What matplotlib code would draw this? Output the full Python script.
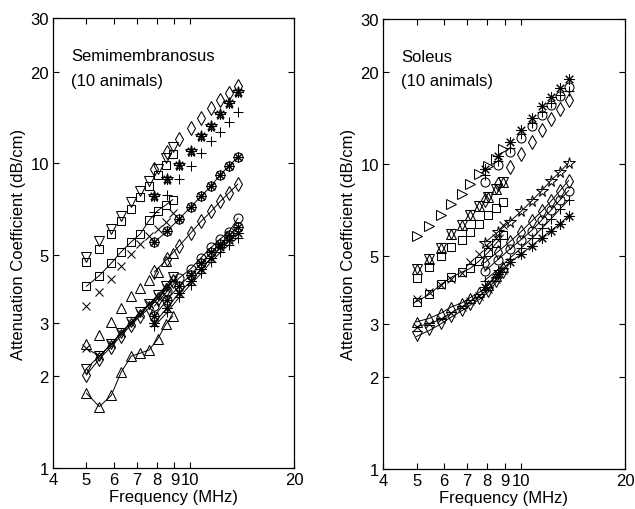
import matplotlib
matplotlib.use("Agg")
import matplotlib.pyplot as plt

plt.rcParams['font.family'] = ['Liberation Sans', 'DejaVu Sans']

# ---------------- frequencies (MHz) ----------------
F_LO = [5.0, 5.45, 5.9, 6.3, 6.75, 7.15, 7.6, 8.05, 8.5, 8.9]
F_HI = [7.87, 8.57, 9.28, 10.02, 10.75, 11.5, 12.22, 12.95, 13.75]

X_TICKS = [4, 5, 6, 7, 8, 9, 10, 20]
X_TICK_LABELS = ['4', '5', '6', '7', '8', '9', '10', '20']
Y_TICKS = [1, 2, 3, 5, 10, 20, 30]
Y_TICK_LABELS = ['1', '2', '3', '5', '10', '20', '30']

# ---------------- Semimembranosus (dB/cm) ----------------
SM_DTRI_TOP = [4.92, 5.57, 6.08, 6.72, 7.48, 8.13, 8.77, 9.6, 10.4, 11.3]
SM_SQ_TOP = [4.73, 5.23, 5.85, 6.45, 7.1, 7.75, 8.4, 9.15, 9.9, 10.7]
SM_SQ_LINE = [3.95, 4.28, 4.7, 5.12, 5.53, 5.85, 6.5, 7.0, 7.3, 7.6]
SM_X = [3.41, 3.79, 4.17, 4.61, 5.04, 5.44, 5.77, 6.08, 6.4, 6.85]
SM_TRI_UP = [2.55, 2.73, 3.02, 3.35, 3.68, 3.9, 4.15, 4.41, 4.77, 5.08]
SM_X_LINE = [2.47, 2.33, 2.55, 2.78, 3.0, 3.2, 3.45, 3.65, 3.9, 4.15]
SM_DTRI_LINE = [2.12, 2.33, 2.55, 2.78, 3.02, 3.25, 3.45, 3.7, 3.95, 4.25]
SM_DIA_LINE_LO = [2.02, 2.28, 2.5, 2.72, 2.95, 3.15, 3.35, 3.6, 3.85, 4.1]
SM_TRI_LINE = [1.76, 1.59, 1.73, 2.06, 2.33, 2.38, 2.44, 2.65, 2.97, 3.15]

SM_DIA_TOP = [9.6, 10.9, 12.0, 13.1, 14.1, 15.2, 16.2, 17.0, 17.9]
SM_AST_TOP = [7.8, 8.9, 9.9, 11.0, 12.3, 13.3, 14.5, 15.8, 17.1]
SM_PLUS_TOP = [6.9, 7.9, 8.9, 9.8, 10.8, 11.8, 12.7, 13.7, 14.7]
SM_OAST_LINE = [5.5, 6.0, 6.56, 7.18, 7.8, 8.42, 9.18, 9.8, 10.5]
SM_DIA_LINE_HI = [4.4, 4.85, 5.35, 5.9, 6.45, 6.95, 7.5, 8.0, 8.55]
SM_CIRC_LINE = [3.4, 3.8, 4.2, 4.5, 4.9, 5.3, 5.65, 5.95, 6.6]
SM_OAST_LINE_LO = [3.15, 3.57, 3.95, 4.3, 4.7, 5.1, 5.45, 5.8, 6.2]
SM_AST_LINE = [3.0, 3.35, 3.75, 4.1, 4.5, 4.9, 5.3, 5.6, 5.9]
SM_PLUS_LINE = [2.92, 3.24, 3.63, 4.0, 4.35, 4.75, 5.1, 5.4, 5.7]

# ---------------- Soleus (dB/cm) ----------------
SO_RTRI = [5.79, 6.28, 6.8, 7.39, 7.97, 8.6, 9.27, 9.87, 10.4, 11.2]
SO_HEX = [4.53, 4.88, 5.29, 5.89, 6.32, 6.8, 7.3, 7.8, 8.3, 8.74]
SO_SQ = [4.22, 4.58, 4.99, 5.33, 5.64, 5.97, 6.36, 6.8, 7.16, 7.5]
SO_X = [3.6, 3.8, 4.0, 4.2, 4.39, 4.76, 5.06, 5.33, 5.7, 6.3]
SO_SQ_LINE = [3.54, 3.74, 4.04, 4.25, 4.42, 4.55, 4.82, 5.13, 5.5, 5.85]
SO_TRI_LINE = [3.04, 3.12, 3.25, 3.4, 3.5, 3.65, 3.8, 4.0, 4.3, 4.6]
SO_X_LINE = [2.93, 3.0, 3.1, 3.25, 3.4, 3.55, 3.7, 3.9, 4.2, 4.5]
SO_DTRI_LINE = [2.72, 2.85, 3.0, 3.15, 3.3, 3.45, 3.6, 3.8, 4.1, 4.4]

SO_AST_TOP = [9.6, 10.6, 11.8, 12.95, 14.2, 15.5, 16.6, 17.7, 19.0]
SO_CIRC_TOP = [8.74, 9.9, 10.97, 12.15, 13.3, 14.5, 15.6, 16.7, 17.9]
SO_PLUS_TOP = [9.2, 10.2, 11.3, 12.5, 13.6, 14.8, 15.9, 16.9, 17.3]
SO_DIA_TOP = [7.6, 8.6, 9.8, 10.8, 11.8, 12.9, 14.0, 15.1, 16.2]
SO_STAR_LINE = [5.53, 5.97, 6.46, 6.99, 7.57, 8.18, 8.83, 9.4, 10.1]
SO_DIA_LINE = [4.75, 5.15, 5.55, 6.0, 6.5, 7.0, 7.55, 8.15, 8.83]
SO_CIRC_LINE = [4.45, 4.85, 5.25, 5.65, 6.05, 6.55, 7.05, 7.6, 8.18]
SO_PLUS_LINE = [4.15, 4.5, 4.9, 5.3, 5.7, 6.15, 6.6, 7.1, 7.63]
SO_AST_LINE = [3.95, 4.35, 4.76, 5.06, 5.39, 5.74, 6.05, 6.36, 6.77]

AST = (8, 2, 0)  # MATLAB-like asterisk
HEX = ['^', 'v']  # hexagram drawn as two overlapping triangles

SM_SERIES = [
    (F_LO, SM_DTRI_TOP, ['v'], False),
    (F_LO, SM_SQ_TOP, ['s'], False),
    (F_LO, SM_SQ_LINE, ['s'], True),
    (F_LO, SM_X, ['x'], False),
    (F_LO, SM_TRI_UP, ['^'], False),
    (F_LO, SM_X_LINE, ['x'], True),
    (F_LO, SM_DTRI_LINE, ['v'], True),
    (F_LO, SM_DIA_LINE_LO, ['d'], True),
    (F_LO, SM_TRI_LINE, ['^'], True),
    (F_HI, SM_DIA_TOP, ['d'], False),
    (F_HI, SM_AST_TOP, [AST, '*'], False),
    (F_HI, SM_PLUS_TOP, ['+'], False),
    (F_HI, SM_OAST_LINE, ['o', AST], True),
    (F_HI, SM_DIA_LINE_HI, ['d'], True),
    (F_HI, SM_CIRC_LINE, ['o'], True),
    (F_HI, SM_OAST_LINE_LO, ['o', AST], True),
    (F_HI, SM_AST_LINE, [AST], True),
    (F_HI, SM_PLUS_LINE, ['+'], True),
]

SO_SERIES = [
    (F_LO, SO_RTRI, ['>'], False),
    (F_LO, SO_HEX, HEX, False),
    (F_LO, SO_SQ, ['s'], False),
    (F_LO, SO_X, ['x'], False),
    (F_LO, SO_SQ_LINE, ['s'], True),
    (F_LO, SO_TRI_LINE, ['^'], True),
    (F_LO, SO_X_LINE, ['x'], True),
    (F_LO, SO_DTRI_LINE, ['v'], True),
    (F_HI, SO_AST_TOP, [AST], False),
    (F_HI, SO_CIRC_TOP, ['o'], False),
    (F_HI, SO_PLUS_TOP, ['+'], False),
    (F_HI, SO_DIA_TOP, ['d'], False),
    (F_HI, SO_STAR_LINE, ['*'], True),
    (F_HI, SO_DIA_LINE, ['d'], True),
    (F_HI, SO_CIRC_LINE, ['o'], True),
    (F_HI, SO_PLUS_LINE, ['+'], True),
    (F_HI, SO_AST_LINE, [AST], True),
]

MS = {'v': 6.5, '^': 6.5, '>': 6.5, 's': 5.8, 'x': 5.5, 'd': 7.5, 'o': 6.5,
      '+': 7, '*': 8.5}


def draw(ax, series, title):
    for f, v, markers, connected in series:
        if connected:
            ax.plot(f, v, '-', color='black', lw=0.7)
        for m in markers:
            ms = 7.5 if m == AST else MS[m]
            ax.plot(f, v, linestyle='none', marker=m, ms=ms, mfc='none',
                    mec='black', mew=0.75)
    ax.set_xscale('log')
    ax.set_yscale('log')
    ax.set_xlim(4, 20)
    ax.set_ylim(1, 30)
    ax.set_xticks(X_TICKS)
    ax.set_xticklabels(X_TICK_LABELS)
    ax.set_yticks(Y_TICKS)
    ax.set_yticklabels(Y_TICK_LABELS)
    ax.minorticks_off()
    ax.tick_params(direction='in', top=True, right=True, length=4,
                   width=0.8, labelsize=12, pad=3)
    for s in ax.spines.values():
        s.set_linewidth(0.9)
    ax.set_xlabel('Frequency (MHz)', fontsize=12, labelpad=1)
    ax.set_ylabel('Attenuation Coefficient (dB/cm)', fontsize=12, labelpad=3)
    ax.text(0.076, 0.916, title, transform=ax.transAxes, fontsize=12,
            va='center', ha='left')
    ax.text(0.076, 0.862, '(10 animals)', transform=ax.transAxes,
            fontsize=12, va='center', ha='left')


fig = plt.figure(figsize=(6.35, 5.10), dpi=100)
ax1 = fig.add_axes([0.0835, 0.0804, 0.3795, 0.8824])
ax2 = fig.add_axes([0.6031, 0.0784, 0.3811, 0.8833])
draw(ax1, SM_SERIES, 'Semimembranosus')
draw(ax2, SO_SERIES, 'Soleus')
fig.savefig('out.png', dpi=100)
